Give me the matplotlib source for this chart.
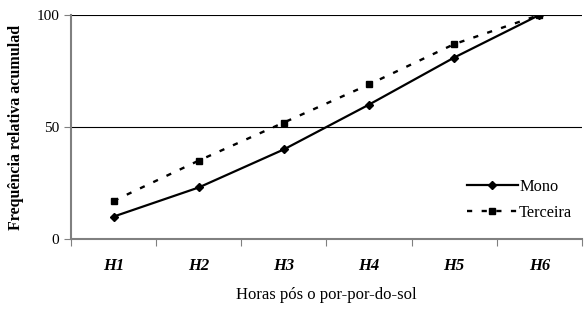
import matplotlib
matplotlib.use("Agg")
import matplotlib.pyplot as plt

horas = ["H1", "H2", "H3", "H4", "H5", "H6"]
mono = [10, 23, 40, 60, 81, 100]
terceira = [17, 35, 52, 69, 87, 100]

plt.rcParams['font.family'] = ['Liberation Serif', 'DejaVu Serif']

fig = plt.figure(figsize=(5.88, 3.09), dpi=100)
ax = fig.add_axes([0.1207, 0.2265, 0.869, 0.725])

x = list(range(len(horas)))
ax.plot(x, mono, '-', color='black', lw=1.6, marker='D', ms=4.5, label='Mono')
ax.plot(x, terceira, color='black', lw=1.7, ls=(0, (2.2, 4)), marker='s', ms=5, label='Terceira')

ax.set_xlim(-0.5, len(horas) - 0.5)
ax.set_ylim(0, 100)
ax.set_yticks([0, 50, 100])
ax.tick_params(axis='y', labelsize=11, length=5, color='#808080')
ax.yaxis.grid(True, color='black', lw=0.8)
ax.set_axisbelow(True)

ax.set_xticks([i - 0.5 for i in range(len(horas) + 1)])
ax.set_xticklabels([])
ax.set_xticks(x, minor=True)
ax.set_xticklabels(horas, minor=True, fontweight='bold', fontstyle='italic', fontsize=12)
ax.tick_params(axis='x', which='major', length=5, color='#808080')
ax.tick_params(axis='x', which='minor', length=0, pad=14)

for s in ['top', 'right']:
    ax.spines[s].set_visible(False)
for s in ['left', 'bottom']:
    ax.spines[s].set_color('#808080')
    ax.spines[s].set_linewidth(1.5)

ax.set_ylabel("Frequência relativa acumulad", fontweight='bold', fontsize=11.5, labelpad=9)
ax.set_xlabel("Horas pós o por-por-do-sol", fontsize=12, labelpad=9)

ax.legend(loc='lower right', bbox_to_anchor=(1.01, 0.015), frameon=False, fontsize=11.8,
          handlelength=3.1, handletextpad=0.1, labelspacing=0.6)

fig.savefig("out.png", dpi=100)
